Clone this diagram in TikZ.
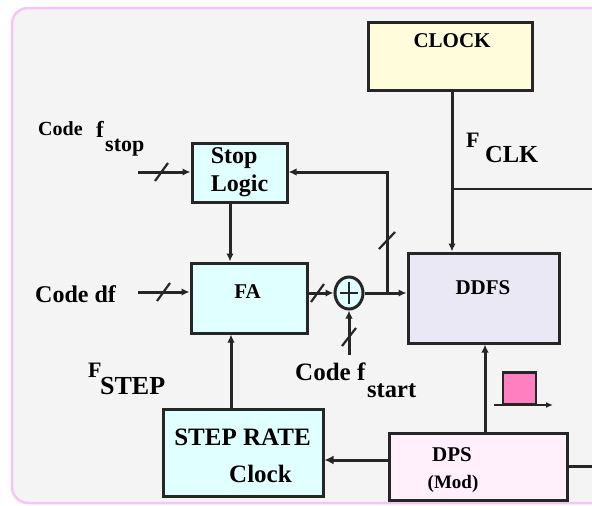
\documentclass[tikz,border=0pt]{standalone}
\usepackage{fontspec}
\setmainfont{Liberation Serif}
\usetikzlibrary{arrows.meta,shapes.geometric}
\definecolor{bgc}{HTML}{F4F4F4}
\definecolor{bordc}{HTML}{F7C4F7}
\definecolor{cyanc}{HTML}{E0FFFF}
\definecolor{lavc}{HTML}{EAE8F5}
\definecolor{pinkc}{HTML}{FFF0FC}
\definecolor{yelc}{HTML}{FFFCDC}
\definecolor{pulsec}{HTML}{FF80C0}
\definecolor{linec}{HTML}{262626}
\newcommand{\fs}[1]{\fontsize{#1}{#1}\selectfont\bfseries}
\begin{document}
\begin{tikzpicture}[x=1pt,y=-1pt,
  blk/.style={draw=linec, line width=3pt, inner sep=0pt, anchor=center},
  conn/.style={draw=linec, line width=3pt, -{Latex[length=8pt,width=7.5pt]}},
  wire/.style={draw=linec, line width=3pt},
  thinwire/.style={draw=linec, line width=2pt},
  slashln/.style={draw=linec, line width=2.2pt},
  txt/.style={inner sep=0pt, text=black}]
\useasboundingbox (0,0) rectangle (592,506);
\fill[white] (0,0) rectangle (592,506);
\draw[bordc, fill=bgc, line width=2.5pt, rounded corners=16pt] (12,8) rectangle (620,503);

% blocks
\node[blk, fill=yelc, minimum width=164pt, minimum height=68pt] (clock) at (450,56) {};
\node[txt, font=\fs{21}] (clocktxt) at (452,41) {CLOCK};

\node[blk, fill=cyanc, minimum width=95pt, minimum height=59pt, align=left, font=\fontsize{24}{28}\selectfont\bfseries] (stop) at (239.5,172.5) {Stop\\Logic};

\node[blk, fill=cyanc, minimum width=116pt, minimum height=70pt] (fa) at (249,298) {};
\node[txt, font=\fs{21}] (fatxt) at (247.5,292) {FA};

\node[blk, fill=lavc, minimum width=151pt, minimum height=90pt] (ddfs) at (483.5,298) {};
\node[txt, font=\fs{21}] (ddfstxt) at (483,288) {DDFS};

\node[draw=linec, line width=3pt, fill=cyanc, ellipse, minimum width=28pt, minimum height=32pt, inner sep=0pt] (add) at (349,293) {};
\draw[linec, line width=2.4pt] (add.center) ++(-9,0) -- ++(18,0);
\draw[linec, line width=2.4pt] (add.center) ++(0,-11) -- ++(0,22);

\node[blk, fill=pinkc, minimum width=178pt, minimum height=67pt] (dps) at (478,466.5) {};
\node[txt, font=\fs{21}] (dpstxt) at (452,455) {DPS};
\node[txt, font=\fs{19}] (modtxt) at (453,484) {(Mod)};

\node[blk, fill=cyanc, minimum width=160pt, minimum height=87pt] (step) at (243,452.5) {};
\node[txt, font=\fs{25}, anchor=base] (steptxt) at (242.5,445) {STEP RATE};
\node[txt, font=\fs{25}, anchor=base west] (clktxt) at (229,482) {Clock};

% labels
\node[txt, font=\fs{20}, anchor=base west] (codestop) at (38,135) {Code};
\node[txt, font=\fs{23}, anchor=base west] (fstop) at (96,137) {f};
\node[txt, font=\fs{22}, anchor=base west] (substop) at (105,151) {stop};
\node[txt, font=\fs{24}, anchor=base west] (codedf) at (35,302) {Code df};
\node[txt, font=\fs{22}, anchor=base west] (fstepF) at (88,377) {F};
\node[txt, font=\fs{26}, anchor=base west] (fstepS) at (100,394) {STEP};
\node[txt, font=\fs{25}, anchor=base west] (codestart) at (295,380) {Code f};
\node[txt, font=\fs{24.5}, anchor=base west] (substart) at (367,397) {start};
\node[txt, font=\fs{22}, anchor=base west] (fclkF) at (466,147) {F};
\node[txt, font=\fs{24.5}, anchor=base west] (fclkS) at (485,162) {CLK};

% coordinates
\coordinate (stopin) at (138,172);
\coordinate (dfin) at (138,292);
\coordinate (fbtop) at (387,172);
\coordinate (fbjn) at (387,293);
\coordinate (startin) at (349,355);
\coordinate (clkx) at (452,0);
\coordinate (clkjn) at (452,189);
\coordinate (clkout) at (592,189);
\coordinate (dpsout) at (592,466);
\coordinate (ddx) at (485,0);
\coordinate (fbx) at (0,460);
\coordinate (upx) at (231,0);
\coordinate (downx) at (230,0);
\coordinate (addy) at (0,293);

% connectors
\draw[conn] (stopin) -- (stop.west |- stopin);
\draw[conn] (fbjn) -- (fbtop) -- (stop.east |- fbtop);
\draw[conn] (stop.south -| downx) -- (fa.north -| downx);
\draw[conn] (dfin) -- (fa.west |- dfin);
\draw[conn] (fa.east |- addy) -- (add.west);
\draw[conn] (add.east) -- (ddfs.west |- addy);
\draw[conn] (startin) -- (add.south);
\draw[conn] (clock.south -| clkx) -- (ddfs.north -| clkx);
\draw[thinwire] (clkjn) -- (clkout);
\draw[conn] (dps.north -| ddx) -- (ddfs.south -| ddx);
\draw[conn, -{Latex[length=9pt,width=9pt]}] (dps.west |- fbx) -- (step.east |- fbx);
\draw[conn] (step.north -| upx) -- (fa.south -| upx);
\draw[wire] (dps.east |- dpsout) -- (dpsout);

% slashes
\draw[slashln] (155,181) -- (168,163);
\draw[slashln] (157,301) -- (170,283);
\draw[slashln] (311,302) -- (324,284);
\draw[slashln] (379,249) -- (395,232);
\draw[slashln] (342,346) -- (356,328);

% pulse
\node[draw=linec, line width=2.2pt, fill=pulsec, minimum width=33pt, minimum height=32pt, inner sep=0pt] (pulse) at (519.5,388.5) {};
\coordinate (pulsel) at (494,405);
\coordinate (pulser) at (553,405);
\draw[linec, line width=2.2pt, -{Latex[length=7pt,width=6pt]}] (pulsel) -- (pulser);
\end{tikzpicture}
\end{document}
